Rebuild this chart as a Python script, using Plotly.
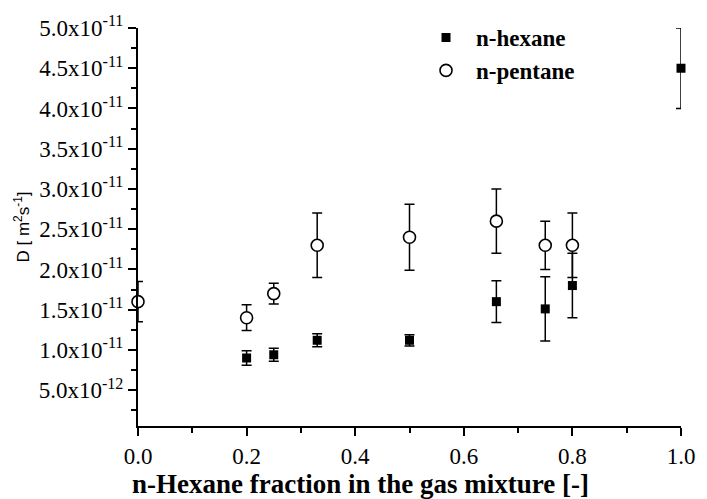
import plotly.graph_objects as go

# data (units of 1e-11 m^2/s)
hex_x = [0.2, 0.25, 0.33, 0.5, 0.66, 0.75, 0.8, 1.0]
hex_y = [0.90, 0.94, 1.12, 1.12, 1.60, 1.51, 1.80, 4.50]
hex_err = [0.09, 0.08, 0.08, 0.07, 0.26, 0.40, 0.40, 0.50]

pen_x = [0.0, 0.2, 0.25, 0.33, 0.5, 0.66, 0.75, 0.8]
pen_y = [1.60, 1.40, 1.70, 2.30, 2.40, 2.60, 2.30, 2.30]
pen_err = [0.25, 0.16, 0.13, 0.40, 0.41, 0.40, 0.30, 0.40]

ytick_vals = [0.5, 1.0, 1.5, 2.0, 2.5, 3.0, 3.5, 4.0, 4.5, 5.0]
ytick_text = ["5.0x10<sup>-12</sup>"] + [f"{v:.1f}x10<sup>-11</sup>" for v in ytick_vals[1:]]
xtick_vals = [0.0, 0.2, 0.4, 0.6, 0.8, 1.0]
x_title = "n-Hexane fraction in the gas mixture [-]"
y_title = "D [ m<sup>2</sup>s<sup>-1</sup>]"

fig = go.Figure()
fig.add_trace(go.Scatter(
    x=hex_x, y=hex_y, mode="markers", name="n-hexane",
    marker=dict(symbol="square", size=9, color="black"),
    error_y=dict(type="data", array=hex_err, color="black", thickness=1.5, width=5),
    cliponaxis=False,
))
fig.add_trace(go.Scatter(
    x=pen_x, y=pen_y, mode="markers", name="n-pentane",
    marker=dict(symbol="circle", size=12, color="white", line=dict(color="black", width=1.6)),
    error_y=dict(type="data", array=pen_err, color="black", thickness=1.5, width=5),
    cliponaxis=False,
))

serif = "Liberation Serif, Times New Roman, serif"
fig.update_layout(
    width=707, height=499,
    margin=dict(l=138, r=15, t=22, b=73),
    paper_bgcolor="white", plot_bgcolor="white",
    font=dict(family=serif, size=23, color="black"),
    showlegend=True,
    legend=dict(x=0.512, y=1.03, xanchor="left", yanchor="top", itemwidth=50,
                font=dict(family=serif, size=23, color="black", weight="bold"),
                bgcolor="rgba(0,0,0,0)", tracegroupgap=0),
    xaxis=dict(range=[0, 1.0], tickvals=xtick_vals, ticktext=[f"{v:.1f}" for v in xtick_vals],
               showgrid=False, zeroline=False, showline=True, linecolor="black", linewidth=2,
               ticks="outside", ticklen=8, tickwidth=1.5, tickcolor="black",
               minor=dict(ticks="outside", ticklen=5, tickwidth=1.5, tickcolor="black", dtick=0.1, tick0=0),
               tickfont=dict(size=23)),
    yaxis=dict(range=[0.055, 5.0], tickvals=ytick_vals, ticktext=ytick_text,
               showgrid=False, zeroline=False, showline=True, linecolor="black", linewidth=2,
               ticks="outside", ticklen=8, tickwidth=1.5, tickcolor="black",
               minor=dict(ticks="outside", ticklen=5, tickwidth=1.5, tickcolor="black", dtick=0.25, tick0=0),
               title=dict(text=y_title,
                          font=dict(family="Liberation Sans, Arial, sans-serif", size=17), standoff=5),
               tickfont=dict(size=23)),
    annotations=[dict(text=x_title, xref="paper", yref="paper", x=0.41, y=-0.145,
                      xanchor="center", yanchor="middle", showarrow=False,
                      font=dict(family=serif, size=27, weight="bold", color="black"))],
)
fig.write_html("out.html")
